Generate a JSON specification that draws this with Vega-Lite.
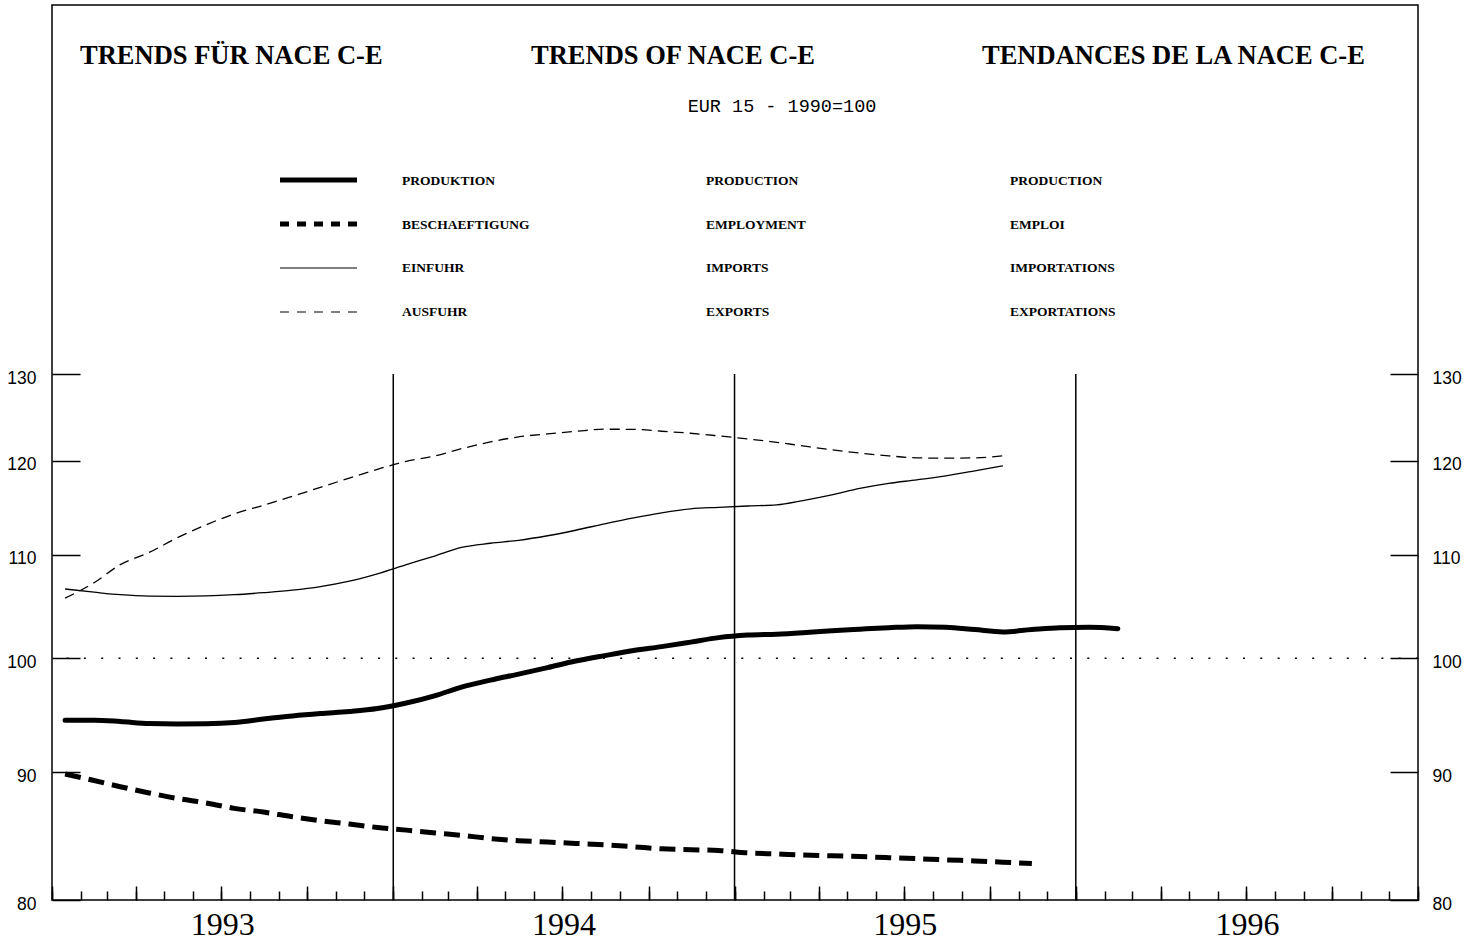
{
  "$schema": "https://vega.github.io/schema/vega-lite/v6.json",
  "width": 1366,
  "height": 895,
  "autosize": {"type": "none"},
  "padding": {"left": 52, "top": 5, "right": 60, "bottom": 44},
  "background": "white",
  "config": {"view": {"stroke": "black", "strokeWidth": 1.5}, "font": "Liberation Sans"},
  "datasets": {
    "production": [
      {"date": "1993-01-15", "value": 94.44}, {"date": "1993-02-15", "value": 94.44}, {"date": "1993-03-15", "value": 94.33},
      {"date": "1993-04-15", "value": 94.15}, {"date": "1993-05-15", "value": 94.11}, {"date": "1993-06-15", "value": 94.13},
      {"date": "1993-07-15", "value": 94.24}, {"date": "1993-08-15", "value": 94.54}, {"date": "1993-09-15", "value": 94.81},
      {"date": "1993-10-15", "value": 95.02}, {"date": "1993-11-15", "value": 95.20}, {"date": "1993-12-15", "value": 95.46},
      {"date": "1994-01-15", "value": 95.95}, {"date": "1994-02-15", "value": 96.61}, {"date": "1994-03-15", "value": 97.37},
      {"date": "1994-04-15", "value": 98.00}, {"date": "1994-05-15", "value": 98.55}, {"date": "1994-06-15", "value": 99.14},
      {"date": "1994-07-15", "value": 99.74}, {"date": "1994-08-15", "value": 100.24}, {"date": "1994-09-15", "value": 100.71},
      {"date": "1994-10-15", "value": 101.08}, {"date": "1994-11-15", "value": 101.50}, {"date": "1994-12-15", "value": 101.92},
      {"date": "1995-01-15", "value": 102.16}, {"date": "1995-02-15", "value": 102.25}, {"date": "1995-03-15", "value": 102.39},
      {"date": "1995-04-15", "value": 102.58}, {"date": "1995-05-15", "value": 102.72}, {"date": "1995-06-15", "value": 102.86},
      {"date": "1995-07-15", "value": 102.96}, {"date": "1995-08-15", "value": 102.91}, {"date": "1995-09-15", "value": 102.68},
      {"date": "1995-10-15", "value": 102.46}, {"date": "1995-11-15", "value": 102.68}, {"date": "1995-12-15", "value": 102.86},
      {"date": "1996-01-15", "value": 102.91}, {"date": "1996-02-15", "value": 102.77}
    ],
    "employment": [
      {"date": "1993-01-15", "value": 89.87}, {"date": "1993-02-15", "value": 89.33}, {"date": "1993-03-15", "value": 88.82},
      {"date": "1993-04-15", "value": 88.31}, {"date": "1993-05-15", "value": 87.86}, {"date": "1993-06-15", "value": 87.50},
      {"date": "1993-07-15", "value": 87.06}, {"date": "1993-08-15", "value": 86.77}, {"date": "1993-09-15", "value": 86.39},
      {"date": "1993-10-15", "value": 86.07}, {"date": "1993-11-15", "value": 85.81}, {"date": "1993-12-15", "value": 85.54},
      {"date": "1994-01-15", "value": 85.33}, {"date": "1994-02-15", "value": 85.10}, {"date": "1994-03-15", "value": 84.92},
      {"date": "1994-04-15", "value": 84.67}, {"date": "1994-05-15", "value": 84.50}, {"date": "1994-06-15", "value": 84.40},
      {"date": "1994-07-15", "value": 84.29}, {"date": "1994-08-15", "value": 84.18}, {"date": "1994-09-15", "value": 84.03},
      {"date": "1994-10-15", "value": 83.87}, {"date": "1994-11-15", "value": 83.80}, {"date": "1994-12-15", "value": 83.74},
      {"date": "1995-01-15", "value": 83.56}, {"date": "1995-02-15", "value": 83.47}, {"date": "1995-03-15", "value": 83.39},
      {"date": "1995-04-15", "value": 83.33}, {"date": "1995-05-15", "value": 83.27}, {"date": "1995-06-15", "value": 83.19},
      {"date": "1995-07-15", "value": 83.11}, {"date": "1995-08-15", "value": 83.02}, {"date": "1995-09-15", "value": 82.94},
      {"date": "1995-10-15", "value": 82.84}, {"date": "1995-11-15", "value": 82.74}
    ],
    "imports": [
      {"date": "1993-01-15", "value": 106.60}, {"date": "1993-02-15", "value": 106.29}, {"date": "1993-03-15", "value": 106.04},
      {"date": "1993-04-15", "value": 105.90}, {"date": "1993-05-15", "value": 105.88}, {"date": "1993-06-15", "value": 105.92},
      {"date": "1993-07-15", "value": 106.04}, {"date": "1993-08-15", "value": 106.24}, {"date": "1993-09-15", "value": 106.48},
      {"date": "1993-10-15", "value": 106.83}, {"date": "1993-11-15", "value": 107.37}, {"date": "1993-12-15", "value": 108.11},
      {"date": "1994-01-15", "value": 109.02}, {"date": "1994-02-15", "value": 109.92}, {"date": "1994-03-15", "value": 110.77},
      {"date": "1994-04-15", "value": 111.20}, {"date": "1994-05-15", "value": 111.50}, {"date": "1994-06-15", "value": 111.97},
      {"date": "1994-07-15", "value": 112.54}, {"date": "1994-08-15", "value": 113.21}, {"date": "1994-09-15", "value": 113.84},
      {"date": "1994-10-15", "value": 114.37}, {"date": "1994-11-15", "value": 114.79}, {"date": "1994-12-15", "value": 114.95},
      {"date": "1995-01-15", "value": 115.09}, {"date": "1995-02-15", "value": 115.21}, {"date": "1995-03-15", "value": 115.67},
      {"date": "1995-04-15", "value": 116.28}, {"date": "1995-05-15", "value": 116.98}, {"date": "1995-06-15", "value": 117.52},
      {"date": "1995-07-15", "value": 117.90}, {"date": "1995-08-15", "value": 118.34}, {"date": "1995-09-15", "value": 118.88},
      {"date": "1995-10-15", "value": 119.43}
    ],
    "exports": [
      {"date": "1993-01-15", "value": 105.70}, {"date": "1993-02-15", "value": 107.22}, {"date": "1993-03-15", "value": 109.02},
      {"date": "1993-04-15", "value": 110.26}, {"date": "1993-05-15", "value": 111.76}, {"date": "1993-06-15", "value": 113.11},
      {"date": "1993-07-15", "value": 114.26}, {"date": "1993-08-15", "value": 115.16}, {"date": "1993-09-15", "value": 116.12},
      {"date": "1993-10-15", "value": 117.09}, {"date": "1993-11-15", "value": 118.09}, {"date": "1993-12-15", "value": 119.05},
      {"date": "1994-01-15", "value": 119.93}, {"date": "1994-02-15", "value": 120.54}, {"date": "1994-03-15", "value": 121.34},
      {"date": "1994-04-15", "value": 122.10}, {"date": "1994-05-15", "value": 122.67}, {"date": "1994-06-15", "value": 123.01},
      {"date": "1994-07-15", "value": 123.29}, {"date": "1994-08-15", "value": 123.54}, {"date": "1994-09-15", "value": 123.52},
      {"date": "1994-10-15", "value": 123.31}, {"date": "1994-11-15", "value": 123.08}, {"date": "1994-12-15", "value": 122.78},
      {"date": "1995-01-15", "value": 122.44}, {"date": "1995-02-15", "value": 122.06}, {"date": "1995-03-15", "value": 121.65},
      {"date": "1995-04-15", "value": 121.21}, {"date": "1995-05-15", "value": 120.85}, {"date": "1995-06-15", "value": 120.54},
      {"date": "1995-07-15", "value": 120.32}, {"date": "1995-08-15", "value": 120.28}, {"date": "1995-09-15", "value": 120.32},
      {"date": "1995-10-15", "value": 120.54}
    ],
    "legend": [
      {"series": "prod", "lang": "de", "text": "PRODUKTION"},
      {"series": "prod", "lang": "en", "text": "PRODUCTION"},
      {"series": "prod", "lang": "fr", "text": "PRODUCTION"},
      {"series": "emp", "lang": "de", "text": "BESCHAEFTIGUNG"},
      {"series": "emp", "lang": "en", "text": "EMPLOYMENT"},
      {"series": "emp", "lang": "fr", "text": "EMPLOI"},
      {"series": "imp", "lang": "de", "text": "EINFUHR"},
      {"series": "imp", "lang": "en", "text": "IMPORTS"},
      {"series": "imp", "lang": "fr", "text": "IMPORTATIONS"},
      {"series": "exp", "lang": "de", "text": "AUSFUHR"},
      {"series": "exp", "lang": "en", "text": "EXPORTS"},
      {"series": "exp", "lang": "fr", "text": "EXPORTATIONS"}
    ]
  },
  "layer": [
    {
      "layer": [
        {
          "data": {"name": "production"},
          "mark": {"type": "line", "interpolate": "monotone", "strokeWidth": 5, "color": "black", "strokeCap": "round"},
          "encoding": {
            "x": {
              "field": "date", "type": "temporal",
              "scale": {"type": "utc", "nice": false, "domain": [{"year": 1993, "month": 1, "date": 1, "utc": true}, {"year": 1997, "month": 1, "date": 1, "utc": true}]},
              "axis": {"orient": "bottom", "title": null, "labels": false, "domain": false, "grid": false, "ticks": true, "tickSize": -9, "tickWidth": 1.5, "tickColor": "black", "tickCount": {"interval": "month", "step": 1}}
            },
            "y": {
              "field": "value", "type": "quantitative",
              "scale": {"type": "log", "domain": [80, 130], "range": [895, 369], "nice": false},
              "axis": {"orient": "left", "title": null, "values": [80, 90, 100, 110, 120, 130], "tickSize": -28, "tickWidth": 1.5, "tickColor": "black", "domain": false, "grid": false, "labelFont": "Liberation Sans", "labelFontSize": 17.5, "labelColor": "black", "labelPadding": 44, "labelOffset": 4, "labelBaseline": "middle"}
            }
          }
        },
        {
          "data": {"name": "employment"},
          "mark": {"type": "line", "interpolate": "monotone", "strokeWidth": 5, "color": "black", "strokeDash": [16, 8]},
          "encoding": {
            "x": {
              "field": "date", "type": "temporal",
              "scale": {"type": "utc", "nice": false, "domain": [{"year": 1993, "month": 1, "date": 1, "utc": true}, {"year": 1997, "month": 1, "date": 1, "utc": true}]},
              "axis": {"orient": "bottom", "title": null, "labels": false, "domain": false, "grid": false, "ticks": true, "tickSize": -14, "tickWidth": 1.5, "tickColor": "black", "tickCount": {"interval": "month", "step": 3}}
            },
            "y": {
              "field": "value", "type": "quantitative",
              "scale": {"type": "log", "domain": [80, 130], "range": [895, 369], "nice": false},
              "axis": {"orient": "right", "title": null, "values": [80, 90, 100, 110, 120, 130], "tickSize": -28, "tickWidth": 1.5, "tickColor": "black", "domain": false, "grid": false, "labelFont": "Liberation Sans", "labelFontSize": 17.5, "labelColor": "black", "labelPadding": 42, "labelOffset": 4, "labelBaseline": "middle"}
            }
          }
        },
        {
          "data": {"name": "imports"},
          "mark": {"type": "line", "interpolate": "monotone", "strokeWidth": 1.3, "color": "black"},
          "encoding": {
            "x": {
              "field": "date", "type": "temporal",
              "scale": {"type": "utc", "nice": false, "domain": [{"year": 1993, "month": 1, "date": 1, "utc": true}, {"year": 1997, "month": 1, "date": 1, "utc": true}]},
              "axis": {"orient": "bottom", "title": null, "values": [{"year": 1993, "month": 7, "date": 2, "utc": true}, {"year": 1994, "month": 7, "date": 2, "utc": true}, {"year": 1995, "month": 7, "date": 2, "utc": true}, {"year": 1996, "month": 7, "date": 2, "utc": true}], "format": "%Y", "ticks": false, "domain": false, "grid": false, "labelFont": "Liberation Serif", "labelFontSize": 32, "labelColor": "black", "labelPadding": 9, "labelFlush": false, "labelOverlap": false}
            },
            "y": {
              "field": "value", "type": "quantitative",
              "scale": {"type": "log", "domain": [80, 130], "range": [895, 369], "nice": false},
              "axis": null
            }
          }
        },
        {
          "data": {"name": "exports"},
          "mark": {"type": "line", "interpolate": "monotone", "strokeWidth": 1.3, "color": "black", "strokeDash": [10, 6]},
          "encoding": {
            "x": {"field": "date", "type": "temporal", "axis": null},
            "y": {"field": "value", "type": "quantitative", "axis": null}
          }
        },
        {
          "data": {"values": [{"level": 100}]},
          "mark": {"type": "rule", "strokeDash": [2, 15.3], "strokeWidth": 1.6, "color": "black"},
          "encoding": {
            "y": {"field": "level", "type": "quantitative", "axis": null}
          }
        },
        {
          "data": {"values": [{"date": "1994-01-01"}, {"date": "1995-01-01"}, {"date": "1996-01-01"}]},
          "mark": {"type": "rule", "strokeWidth": 1.5, "color": "black"},
          "encoding": {
            "x": {"field": "date", "type": "temporal", "axis": null},
            "y": {"datum": 80, "type": "quantitative", "axis": null},
            "y2": {"datum": 130}
          }
        }
      ],
      "resolve": {"axis": {"x": "independent", "y": "independent"}}
    },
    {
      "data": {"values": [
        {"lang": "de", "row": "title", "text": "TRENDS FÜR NACE C-E"},
        {"lang": "en", "row": "title", "text": "TRENDS OF NACE C-E"},
        {"lang": "fr", "row": "title", "text": "TENDANCES DE LA NACE C-E"}
      ]},
      "mark": {"type": "text", "align": "left", "baseline": "middle", "font": "Liberation Serif", "fontWeight": "bold", "fontSize": 26.5, "color": "black"},
      "encoding": {
        "x": {"field": "lang", "type": "nominal", "scale": {"type": "point", "domain": ["de", "en", "fr"], "range": [28, 930], "padding": 0}, "axis": null},
        "y": {"field": "row", "type": "nominal", "scale": {"type": "point", "domain": ["title"], "range": [51, 51], "padding": 0}, "axis": null},
        "text": {"field": "text"}
      }
    },
    {
      "data": {"values": [{"row": "subtitle", "text": "EUR 15  -  1990=100"}]},
      "mark": {"type": "text", "align": "center", "baseline": "middle", "font": "Liberation Mono", "fontSize": 18.5, "color": "black"},
      "encoding": {
        "x": {"field": "row", "type": "nominal", "scale": {"type": "point", "domain": ["subtitle"], "range": [730, 730], "padding": 0}, "axis": null},
        "y": {"field": "row", "type": "nominal", "scale": {"type": "point", "domain": ["subtitle"], "range": [101, 101], "padding": 0}, "axis": null},
        "text": {"field": "text"}
      }
    },
    {
      "data": {"name": "legend"},
      "mark": {"type": "text", "align": "left", "baseline": "middle", "font": "Liberation Serif", "fontWeight": "bold", "fontSize": 13.5, "color": "black"},
      "encoding": {
        "x": {"field": "lang", "type": "nominal", "scale": {"type": "point", "domain": ["de", "en", "fr"], "range": [350, 958], "padding": 0}, "axis": null},
        "y": {"field": "series", "type": "nominal", "scale": {"type": "point", "domain": ["prod", "emp", "imp", "exp"], "range": [176, 307], "padding": 0}, "axis": null},
        "text": {"field": "text"}
      }
    },
    {
      "data": {"values": [{"series": "prod"}, {"series": "emp"}]},
      "mark": {"type": "rule", "color": "black", "strokeWidth": 5},
      "encoding": {
        "x": {"datum": 0, "type": "quantitative", "scale": {"domain": [0, 1], "range": [228, 305], "nice": false, "zero": false}, "axis": null},
        "x2": {"datum": 1},
        "y": {"field": "series", "type": "nominal", "scale": {"type": "point", "domain": ["prod", "emp", "imp", "exp"], "range": [175, 307], "padding": 0}, "axis": null},
        "strokeDash": {"field": "series", "type": "nominal", "scale": {"domain": ["prod", "emp"], "range": [[1, 0], [9, 8]]}, "legend": null}
      }
    },
    {
      "data": {"values": [{"series": "imp"}, {"series": "exp"}]},
      "mark": {"type": "rule", "color": "black", "strokeWidth": 1.2},
      "encoding": {
        "x": {"datum": 0, "type": "quantitative", "scale": {"domain": [0, 1], "range": [228, 305], "nice": false, "zero": false}, "axis": null},
        "x2": {"datum": 1},
        "y": {"field": "series", "type": "nominal", "scale": {"type": "point", "domain": ["prod", "emp", "imp", "exp"], "range": [175, 307], "padding": 0}, "axis": null},
        "strokeDash": {"field": "series", "type": "nominal", "scale": {"domain": ["imp", "exp"], "range": [[1, 0], [9, 8]]}, "legend": null}
      }
    }
  ],
  "resolve": {"scale": {"x": "independent", "y": "independent", "strokeDash": "independent"}}
}
